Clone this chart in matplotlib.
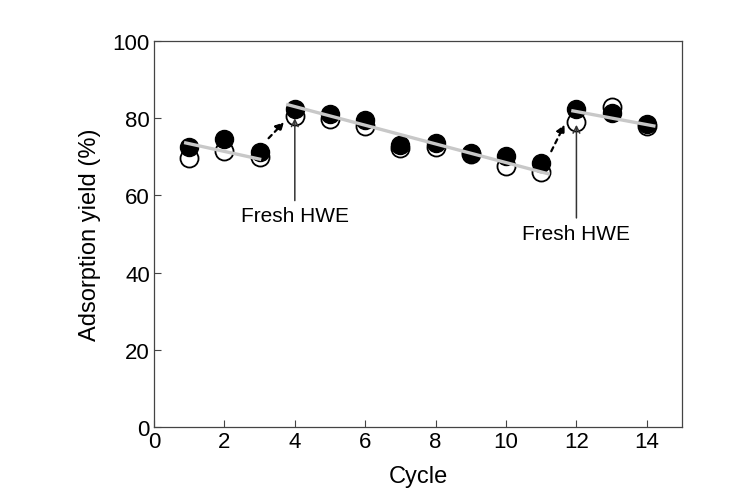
import matplotlib.pyplot as plt

plt.rcParams['font.family'] = ['Liberation Sans', 'DejaVu Sans']

cycles = [1, 2, 3, 4, 5, 6, 7, 8, 9, 10, 11, 12, 13, 14]
filled_yield = [72.5, 74.5, 71.3, 82.5, 81.0, 79.6, 73.0, 73.6, 71.0, 70.2, 68.4, 82.4, 81.4, 78.4]
open_yield = [69.6, 71.5, 70.0, 80.7, 79.8, 78.0, 72.2, 72.5, 70.6, 67.6, 66.0, 79.0, 82.9, 78.0]

# gray trend segments (start/end points)
trend_x = [[0.9, 3.0], [3.8, 11.2], [11.9, 14.2]]
trend_y = [[73.6, 69.4], [83.5, 65.6], [81.9, 78.0]]

# dashed arrows marking fresh HWE addition
dash_start = [(3.2, 74.3), (11.25, 70.8)]
dash_end = [(3.75, 79.5), (11.7, 79.0)]

# text labels with vertical arrows
label_x = [4, 12]
label_y = [52.3, 47.8]
arrow_tip = [80.0, 78.3]

fig = plt.figure(figsize=(7.31, 5.02), dpi=100)
ax = fig.add_axes([0.2107, 0.1474, 0.7223, 0.7689])

ax.plot(cycles, open_yield, 'o', ms=13, mfc='white', mec='black', mew=1.3, zorder=2)
ax.plot(cycles, filled_yield, 'o', ms=13, mfc='black', mec='black', mew=1.0, zorder=3)

for tx, ty in zip(trend_x, trend_y):
    ax.plot(tx, ty, color='#c8c8c8', lw=2.4, zorder=4)

for s, e in zip(dash_start, dash_end):
    ax.annotate('', xy=e, xytext=s,
                arrowprops=dict(arrowstyle='-|>', color='black', lw=1.6,
                                linestyle=(0, (2, 2)), mutation_scale=12),
                zorder=5)

for lx, ly, tip in zip(label_x, label_y, arrow_tip):
    ax.annotate('Fresh HWE', xy=(lx, tip), xytext=(lx, ly),
                ha='center', va='bottom', fontsize=15,
                arrowprops=dict(arrowstyle='->', color='#333333', lw=1.1,
                                shrinkA=2, shrinkB=0, mutation_scale=12))

ax.set_xlim(0, 15)
ax.set_ylim(0, 100)
ax.set_xticks(range(0, 15, 2))
ax.set_yticks(range(0, 101, 20))
ax.tick_params(direction='in', labelsize=16, length=5, width=0.8, color='#444444', pad=3)
for sp in ax.spines.values():
    sp.set_color('#444444')
    sp.set_linewidth(0.9)

ax.set_xlabel('Cycle', fontsize=17, labelpad=9)
ax.set_ylabel('Adsorption yield (%)', fontsize=17, labelpad=8)

fig.savefig('out.png', dpi=100)
